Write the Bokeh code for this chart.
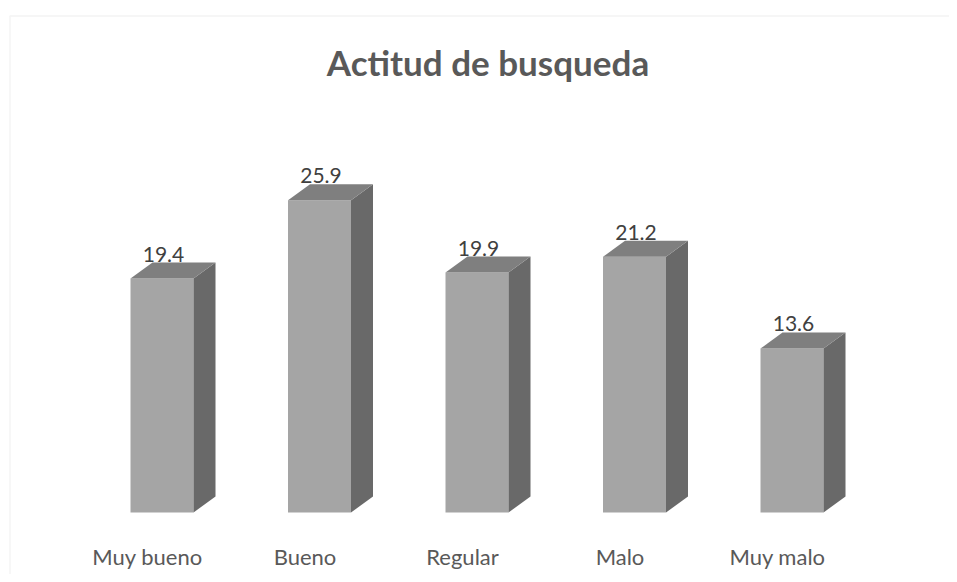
from bokeh.plotting import figure
from bokeh.models import BoxAnnotation, ColumnDataSource, Range1d
from bokeh.core.properties import value
from bokeh.embed import file_html
from bokeh.resources import INLINE
import numpy as np

# ---- data ----
categories = ["Muy bueno", "Bueno", "Regular", "Malo", "Muy malo"]
values = [19.4, 25.9, 19.9, 21.2, 13.6]
value_labels = ["19.4", "25.9", "19.9", "21.2", "13.6"]
title_text = "Actitud de busqueda"

# ---- style / geometry constants ----
W, H = 949, 574
FRONT = "#a5a5a5"
TOP = "#7f7f7f"
SIDE = "#696969"
TXT = "#595959"
FONT = "Lato"

PX_X = 157.5          # pixels per category slot
PX_Y = 12.06          # pixels per value unit
X0_PX = 147.0         # pixel position of first category centre
Y0_PX = 512.0         # pixel position of value zero

x_start = -X0_PX / PX_X
x_end = x_start + W / PX_X
y_end = Y0_PX / PX_Y
y_start = y_end - H / PX_Y


def px2x(px):
    return x_start + px / PX_X


def py2y(py):
    return y_end - py / PX_Y


bar_off = 14.5 / PX_X   # front-face centre offset from category centre
hw = 31.5 / PX_X        # half width of front face
dx = 22.0 / PX_X        # depth offset in x units
dy = 16.0 / PX_Y        # depth offset in y units

p = figure(width=W, height=H, output_backend="svg", toolbar_location=None,
           x_range=Range1d(x_start, x_end), y_range=Range1d(y_start, y_end),
           min_border=0)
p.outline_line_color = None
p.xgrid.visible = False
p.ygrid.visible = False
p.xaxis.visible = False
p.yaxis.visible = False

idx = np.arange(len(categories))
v = np.array(values)
cx = idx + bar_off

# front faces
p.vbar(x=cx, top=v, bottom=0, width=2 * hw, fill_color=FRONT, line_color=None)

# side faces
side_xs = [[c + hw, c + hw, c + hw + dx, c + hw + dx] for c in cx]
side_ys = [[0, val, val + dy, dy] for val in v]
p.patches(side_xs, side_ys, fill_color=SIDE, line_color=None)

# top faces
top_xs = [[c - hw, c + hw, c + hw + dx, c - hw + dx] for c in cx]
top_ys = [[val, val, val + dy, val + dy] for val in v]
p.patches(top_xs, top_ys, fill_color=TOP, line_color=None)

# value labels (centred just above the back edge of the top face)
src = ColumnDataSource(dict(x=cx + 1.5 / PX_X, y=v + dy + 8.5 / PX_Y, t=value_labels))
p.text(x="x", y="y", text="t", source=src, text_align="center",
       text_baseline="middle", text_font=value(FONT),
       text_font_size="21px", text_color="#404040")

# category labels
csrc = ColumnDataSource(dict(x=idx, y=np.full(len(idx), py2y(556)), t=categories))
p.text(x="x", y="y", text="t", source=csrc, text_align="center",
       text_baseline="middle", text_font=value(FONT),
       text_font_size="22px", text_color=TXT)

# title
p.text(x=[px2x(487.5)], y=[py2y(61.5)], text=[title_text], text_align="center",
       text_baseline="middle", text_font=value(FONT),
       text_font_style="bold", text_font_size="35px", text_color=TXT)

# chart border (left & top visible; right/bottom fall outside)
p.add_layout(BoxAnnotation(left=px2x(9.5), top=py2y(15.5),
                           right=x_end + 1, bottom=y_start - 5,
                           fill_alpha=0, line_color="#d9d9d9", line_width=1.5,
                           level="underlay"))

open("out.html", "w").write(file_html(p, INLINE))
